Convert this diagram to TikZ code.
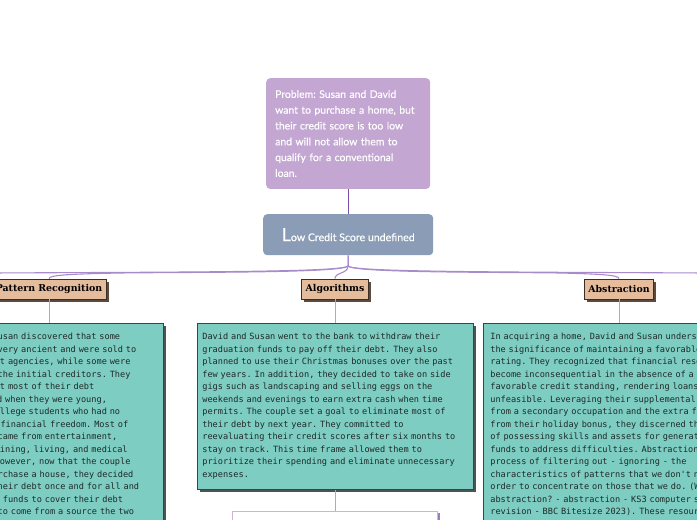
\documentclass[tikz,border=0pt]{standalone}
\usepackage{fontspec}
\newfontfamily\problemfont{Lato}[FakeBold=0.4]
\newfontfamily\notefont{DejaVu Sans Mono}
\newfontfamily\tagfont{DejaVu Serif}
\usetikzlibrary{positioning}
\frenchspacing

\definecolor{problemfill}{HTML}{C3A6D2}
\definecolor{centralfill}{HTML}{8B9DB6}
\definecolor{tagfill}{HTML}{E5BD9D}
\definecolor{tagline}{HTML}{3B2E26}
\definecolor{tagshade}{HTML}{5A4A40}
\definecolor{notefill}{HTML}{7ECDC2}
\definecolor{noteline}{HTML}{2E4A45}
\definecolor{noteshade}{HTML}{4B5553}
\definecolor{notetext}{HTML}{1E2A28}
\definecolor{trunkcolor}{HTML}{7E4CA9}
\definecolor{branchcolor}{HTML}{A88BCB}
\definecolor{stemcolor}{HTML}{B89FD6}
\definecolor{planline}{HTML}{C9B4E0}
\definecolor{planshade}{HTML}{9A7DC6}

\begin{document}
\begin{tikzpicture}[x=1pt, y=-1pt,
  problembox/.style={fill=problemfill, rounded corners=4pt, text=white, align=left, text width=146pt, inner xsep=9pt, inner ysep=12pt, font=\problemfont\fontsize{10.4}{15.8}\selectfont},
  centralbox/.style={fill=centralfill, rounded corners=4pt, text=white, minimum width=170pt, minimum height=41pt, font=\problemfont\fontsize{10.6}{11}\selectfont},
  tagbox/.style={draw=tagline, fill=tagfill, line width=0.8pt, minimum height=20pt, inner xsep=4pt, font=\tagfont\bfseries\fontsize{9.4}{10}\selectfont, preaction={fill=tagshade, transform canvas={xshift=2.5pt, yshift=-2.5pt}}},
  notebox/.style={draw=noteline, fill=notefill, line width=0.7pt, align=left, inner ysep=10pt, text=notetext, font=\notefont\fontsize{8.6}{12.5}\selectfont, preaction={fill=noteshade, transform canvas={xshift=3pt, yshift=-3pt}}},
  planbox/.style={draw=planline, fill=white, line width=1pt, minimum width=205pt, minimum height=40pt, preaction={fill=planshade, transform canvas={xshift=2pt, yshift=-2pt}}},
  trunk/.style={draw=trunkcolor, line width=1pt},
  branch/.style={draw=branchcolor, line width=1.1pt},
  stem/.style={draw=stemcolor, line width=0.8pt}
]
\useasboundingbox (0,0) rectangle (697,520);

% top of the map
\node[problembox, anchor=north west] (problem) at (266,78) {Problem: Susan and David\\want to purchase a home, but\\their credit score is too low\\and will not allow them to\\qualify for a conventional\\loan.};
\node[centralbox, anchor=north west] (central) at (263,214) {{\fontsize{18}{18}\selectfont L}ow Credit Score undefined};
\coordinate (fork) at (348,266);
\coordinate (offLeft) at (-10,273);
\coordinate (offRight) at (707,273);

% main topics
\node[tagbox] (pattern) at (49,289) {Pattern Recognition};
\node[tagbox] (algorithms) at (335,289) {Algorithms};
\node[tagbox] (abstraction) at (619,289) {Abstraction};

% notes
\node[notebox, text width=214pt, inner xsep=4pt, text depth=215pt, anchor=north west] (patternText) at (-59,323) {David and Susan discovered that some\\debts were very ancient and were sold to\\two distinct agencies, while some were\\still with the initial creditors. They\\learned that most of their debt\\accumulated when they were young,\\carefree college students who had no\\hope of any financial freedom. Most of\\their debt came from entertainment,\\clothing, dining, living, and medical\\expenses. However, now that the couple\\wants to purchase a house, they decided\\to settle their debt once and for all and\\needed more funds to cover their debt\\which need to come from a source the two};
\node[notebox, text width=266pt, inner xsep=5pt, anchor=north west] (algorithmsText) at (197,323) {David and Susan went to the bank to withdraw their\\graduation funds to pay off their debt. They also\\planned to use their Christmas bonuses over the past\\few years. In addition, they decided to take on side\\gigs such as landscaping and selling eggs on the\\weekends and evenings to earn extra cash when time\\permits. The couple set a goal to eliminate most of\\their debt by next year. They committed to\\reevaluating their credit scores after six months to\\stay on track. This time frame allowed them to\\prioritize their spending and eliminate unnecessary\\expenses.};
\node[notebox, text width=266pt, inner xsep=7pt, text depth=215pt, anchor=north west] (abstractionText) at (483,323) {In acquiring a home, David and Susan understood\\the significance of maintaining a favorable credit\\rating. They recognized that financial resources\\become inconsequential in the absence of a\\favorable credit standing, rendering loans\\unfeasible. Leveraging their supplemental income\\from a secondary occupation and the extra funds\\from their holiday bonus, they discerned the value\\of possessing skills and assets for generating\\funds to address difficulties. Abstraction is the\\process of filtering out - ignoring - the\\characteristics of patterns that we don't need in\\order to concentrate on those that we do. (What is\\abstraction? - abstraction - KS3 computer science\\revision - BBC Bitesize 2023). These resources};
\node[planbox, below=21pt of algorithmsText] (plan) {};

% connectors
\draw[trunk] (problem) -- (central);
\draw[trunk] (central.south) -- (fork);
\draw[branch] (fork) .. controls (344,272) and (200,272) .. (offLeft);
\draw[branch] (fork) .. controls (342,273) and (200,272) .. (120,273) .. controls (70,274) and (49,275) .. (pattern.north);
\draw[branch] (fork) .. controls (348,274) and (335,272) .. (algorithms.north);
\draw[branch] (fork) .. controls (354,273) and (500,272) .. (560,273) .. controls (600,274) and (619,275) .. (abstraction.north);
\draw[branch] (fork) .. controls (352,272) and (500,272) .. (offRight);
\draw[stem] (pattern.south) -- (pattern.south |- patternText.north);
\draw[stem] (algorithms.south) -- (algorithms.south |- algorithmsText.north);
\draw[stem] (abstraction.south) -- (abstraction.south |- abstractionText.north);
\draw[stem] (algorithmsText.south -| algorithms.south) -- (algorithms.south |- plan.north);
\end{tikzpicture}
\end{document}
